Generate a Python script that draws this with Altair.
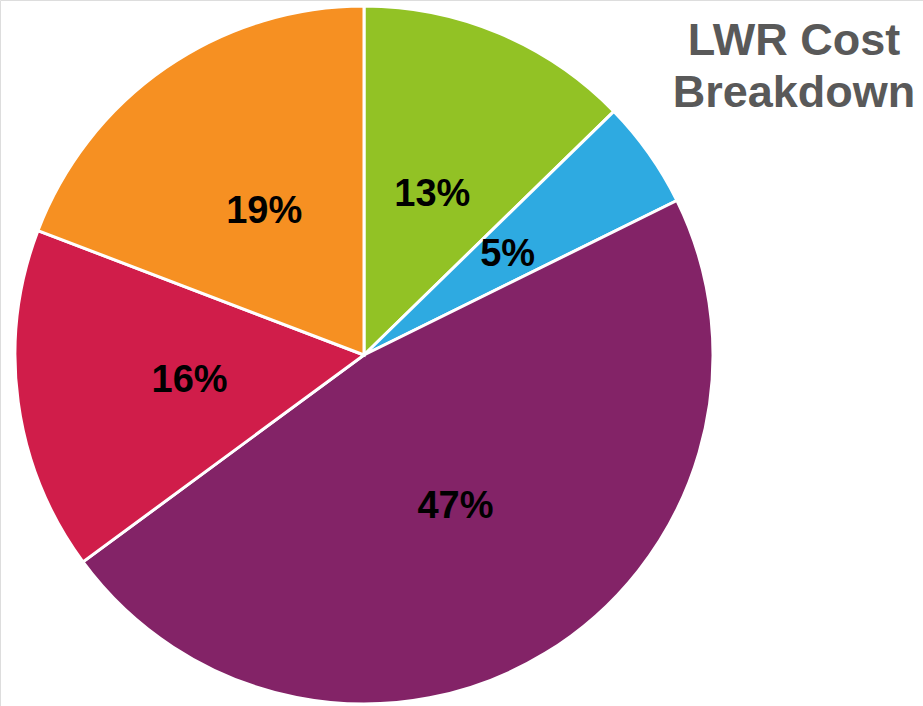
import altair as alt
import pandas as pd

categories = ["Segment A", "Segment B", "Segment C", "Segment D", "Segment E"]
shares = [12.7, 5.0, 47.2, 15.9, 19.2]
labels = ["13%", "5%", "47%", "16%", "19%"]
colors = ["#92C225", "#2EAAE1", "#832367", "#D01D4A", "#F69022"]
title_lines = ["LWR Cost", "Breakdown"]

df = pd.DataFrame({
    "category": categories,
    "share": shares,
    "label": labels,
    "order": list(range(len(categories))),
})

cx, cy, R = 364, 355, 349

base = alt.Chart(df).encode(
    theta=alt.Theta("share:Q", stack=True),
    order=alt.Order("order:Q"),
    x=alt.value(cx),
    y=alt.value(cy),
)

arcs = base.mark_arc(outerRadius=R, stroke="white", strokeWidth=3).encode(
    color=alt.Color("category:N",
                    scale=alt.Scale(domain=categories, range=colors),
                    legend=None)
)

text = base.mark_text(radius=176, font="Liberation Sans", fontWeight="bold",
                      fontSize=38, color="black", dy=2).encode(text="label:N")

title_df = pd.DataFrame({"t": title_lines, "row": [0, 1]})
title = alt.Chart(title_df).mark_text(
    font="Liberation Sans", fontWeight="bold", fontSize=45,
    color="#595959", align="center", baseline="alphabetic"
).encode(
    text="t:N",
    x=alt.value(794),
    y=alt.Y("row:Q", scale=alt.Scale(domain=[0, 1], range=[55, 107]), axis=None),
)

chart = alt.layer(arcs, text, title).properties(
    width=923, height=706, padding=0, autosize=alt.AutoSizeParams(type="none")
).configure_view(stroke=None).configure(background="white")

chart.save("out.html", embed_options={"renderer": "svg", "actions": False})
